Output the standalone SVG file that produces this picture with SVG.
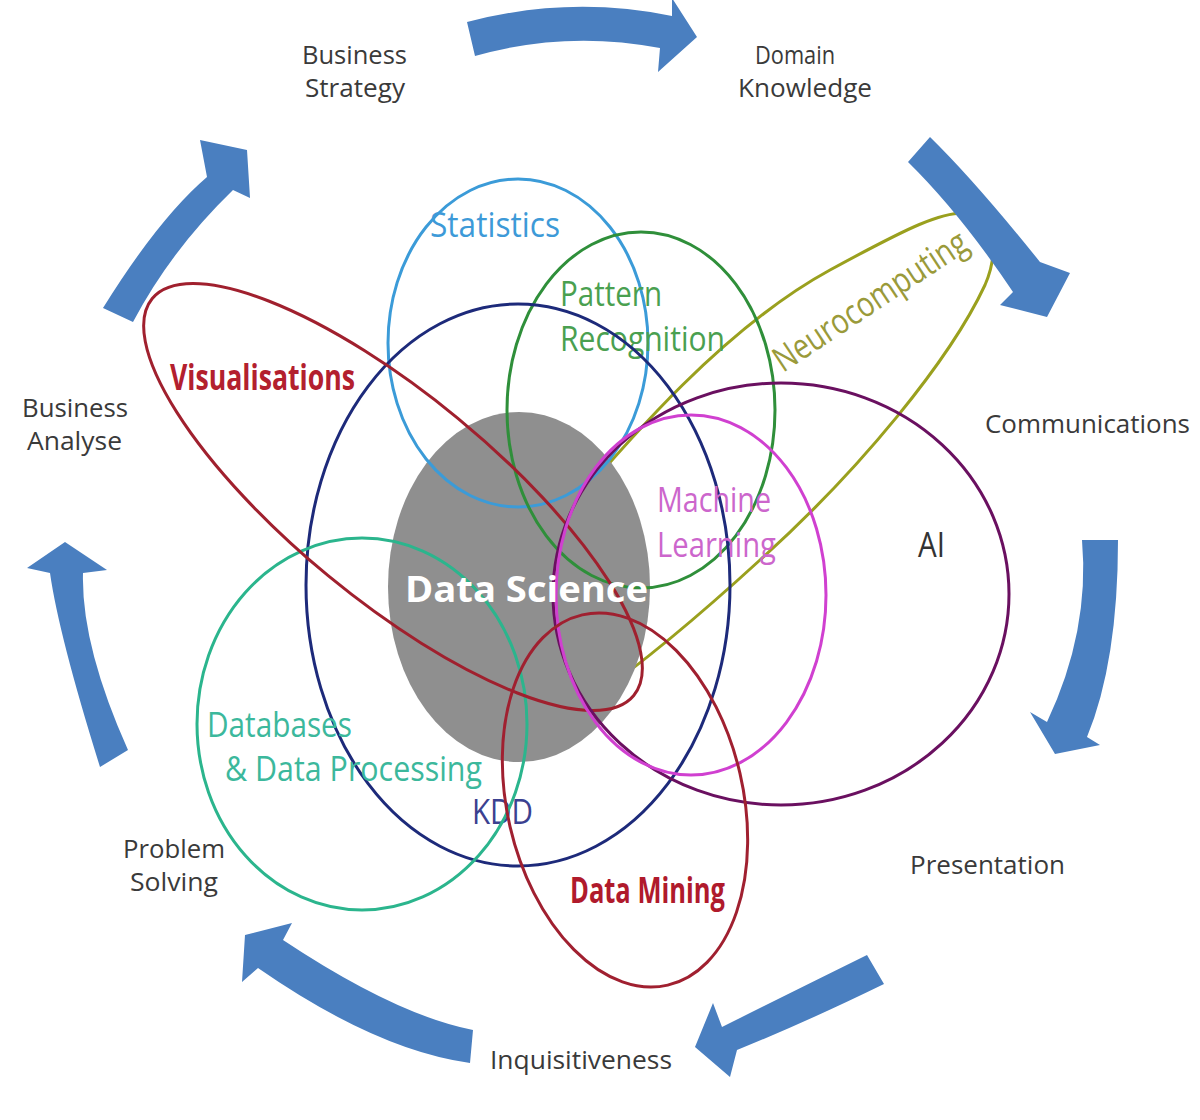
<svg xmlns="http://www.w3.org/2000/svg" width="1200" height="1120" viewBox="0 0 1200 1120">
<style>
.lbl{font-family:"Open Sans","Liberation Sans",sans-serif;font-size:25px;fill:#3a3a3a}
.t{font-family:"Open Sans","Liberation Sans",sans-serif;font-size:35px}
.b{font-weight:bold}
.set{fill:none;stroke-width:3}
.arrow{fill:#4a7fc0}
</style>
<rect width="1200" height="1120" fill="#ffffff"/>

<g id="neurocomputing">
<path class="set" stroke="#9aa01e" d="M 560,520 C 620,450 720,330 830,270 C 900,232 950,205 975,215 C 1000,225 995,262 985,285 C 950,360 860,470 760,560 C 700,615 640,665 590,700 Z"/>
<text class="t" font-size="28" fill="#9a9a3a" transform="translate(783,373) rotate(-33.5)" textLength="225" lengthAdjust="spacingAndGlyphs">Neurocomputing</text>
</g>

<g id="data-science">
<ellipse cx="519" cy="587" rx="131" ry="175" fill="#8f8f8f"/>
</g>

<g id="statistics">
<ellipse class="set" cx="518" cy="343" rx="130" ry="164" stroke="#3b9bd8"/>
<text class="t" x="430" y="237" fill="#3d9ad8" textLength="130" lengthAdjust="spacingAndGlyphs">Statistics</text>
</g>

<g id="pattern-recognition">
<ellipse class="set" cx="641" cy="410" rx="134" ry="178" stroke="#2f8f3a"/>
<text class="t" x="560" y="306" font-size="33" fill="#4aa050" textLength="102" lengthAdjust="spacingAndGlyphs">Pattern</text>
<text class="t" x="560" y="351" font-size="33" fill="#4aa050" textLength="165" lengthAdjust="spacingAndGlyphs">Recognition</text>
</g>

<g id="kdd">
<ellipse class="set" cx="518" cy="585" rx="212" ry="281" stroke="#1d2a7a"/>
<text class="t" x="472" y="824" font-size="30" fill="#3b4190" textLength="61" lengthAdjust="spacingAndGlyphs">KDD</text>
</g>

<g id="databases">
<ellipse class="set" cx="362" cy="724" rx="165" ry="186" stroke="#2bb58d" stroke-width="4"/>
<text class="t" x="207" y="737" fill="#3cb89c" textLength="145" lengthAdjust="spacingAndGlyphs">Databases</text>
<text class="t" x="225" y="781" fill="#3cb89c" textLength="257" lengthAdjust="spacingAndGlyphs">&amp; Data Processing</text>
</g>

<g id="visualisations">
<ellipse class="set" cx="393" cy="497" rx="312" ry="102" transform="rotate(39.5 393 497)" stroke="#a0202e"/>
<text class="t b" x="170" y="390" fill="#b3202e" textLength="185" lengthAdjust="spacingAndGlyphs">Visualisations</text>
</g>

<g id="ai">
<ellipse class="set" cx="781" cy="594" rx="228" ry="211" stroke="#6a1060"/>
<text class="t" x="918" y="557" fill="#333333" textLength="27" lengthAdjust="spacingAndGlyphs">AI</text>
</g>

<g id="machine-learning">
<ellipse class="set" cx="691" cy="595" rx="135" ry="180" stroke="#d040d0"/>
<text class="t" x="657" y="512" fill="#cc66cc" textLength="114" lengthAdjust="spacingAndGlyphs">Machine</text>
<text class="t" x="657" y="557" fill="#cc66cc" textLength="119" lengthAdjust="spacingAndGlyphs">Learning</text>
</g>

<g id="data-mining">
<ellipse class="set" cx="625" cy="800" rx="118" ry="190" transform="rotate(-13 625 800)" stroke="#a02030"/>
<text class="t b" x="570" y="903" fill="#b01a2c" textLength="155" lengthAdjust="spacingAndGlyphs">Data Mining</text>
</g>

<g id="data-science-label">
<text class="t b" x="405" y="602" font-size="44" fill="#ffffff" textLength="243" lengthAdjust="spacingAndGlyphs">Data Science</text>
</g>

<g id="connectors">
<path class="arrow" d="M 467,22 Q 570,-5 672,16 L 672,-2 L 697,37 L 658,72 L 660,48 Q 566,30 475,56 Z"/>
<path class="arrow" d="M 908,162 L 930,137 Q 975,181 1040,262 L 1070,273 L 1047,317 L 1000,305 L 1013,292 Q 960,213 908,162 Z"/>
<path class="arrow" d="M 1082,540 L 1118,540 Q 1118,662 1087,737 L 1100,745 L 1055,754 L 1030,712 L 1047,722 Q 1090,631 1082,540 Z"/>
<path class="arrow" d="M 867,955 L 884,984 Q 804,1023 737,1050 L 730,1077 L 695,1047 L 713,1003 L 722,1027 Q 786,995 867,955 Z"/>
<path class="arrow" d="M 473,1030 L 470,1063 Q 376,1050 258,968 L 242,982 L 245,935 L 292,923 L 283,940 Q 396,1015 473,1030 Z"/>
<path class="arrow" d="M 100,767 L 128,750 Q 81,645 83,573 L 107,570 L 65,542 L 27,568 L 50,573 Q 59,636 100,767 Z"/>
<path class="arrow" d="M 103,308 Q 159,218 207,177 L 200,140 L 247,150 L 250,198 L 233,190 Q 171,250 133,322 Z"/>
</g>

<g id="business-strategy">
<text class="lbl" x="302" y="64" textLength="105" lengthAdjust="spacingAndGlyphs">Business</text>
<text class="lbl" x="305" y="97" textLength="100" lengthAdjust="spacingAndGlyphs">Strategy</text>
</g>
<g id="domain-knowledge">
<text class="lbl" x="755" y="64" textLength="80" lengthAdjust="spacingAndGlyphs">Domain</text>
<text class="lbl" x="738" y="97" textLength="134" lengthAdjust="spacingAndGlyphs">Knowledge</text>
</g>
<g id="communications">
<text class="lbl" x="985" y="433" textLength="205" lengthAdjust="spacingAndGlyphs">Communications</text>
</g>
<g id="presentation">
<text class="lbl" x="910" y="874" textLength="155" lengthAdjust="spacingAndGlyphs">Presentation</text>
</g>
<g id="inquisitiveness">
<text class="lbl" x="490" y="1069" textLength="182" lengthAdjust="spacingAndGlyphs">Inquisitiveness</text>
</g>
<g id="problem-solving">
<text class="lbl" x="123" y="858" textLength="102" lengthAdjust="spacingAndGlyphs">Problem</text>
<text class="lbl" x="130" y="891" textLength="88" lengthAdjust="spacingAndGlyphs">Solving</text>
</g>
<g id="business-analyse">
<text class="lbl" x="22" y="417" textLength="106" lengthAdjust="spacingAndGlyphs">Business</text>
<text class="lbl" x="27" y="450" textLength="95" lengthAdjust="spacingAndGlyphs">Analyse</text>
</g>
</svg>
